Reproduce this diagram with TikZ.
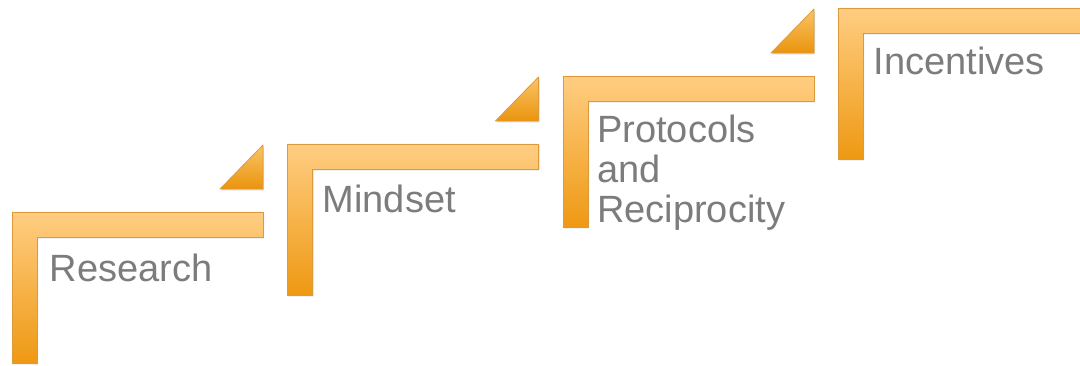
\documentclass[tikz,border=0pt]{standalone}
\usepackage{fontspec}
\setmainfont{Liberation Sans}
\usetikzlibrary{shadows}

\definecolor{stepTop}{HTML}{FFCD82}
\definecolor{stepBottom}{HTML}{EE9912}
\definecolor{stepEdge}{HTML}{DC9A3C}
\definecolor{triTop}{HTML}{FAC466}
\definecolor{triBottom}{HTML}{EA940E}
\definecolor{labelGray}{HTML}{7C7C7C}

\tikzset{
  stairshape/.style={draw=stepEdge, line width=0.8pt, line join=miter,
    top color=stepTop, bottom color=stepBottom,
    drop shadow={shadow xshift=1pt, shadow yshift=-1.5pt, opacity=0.25, fill=black!60}},
  wedgeshape/.style={draw=stepEdge, line width=0.8pt, line join=round,
    top color=triTop, bottom color=triBottom,
    drop shadow={shadow xshift=1pt, shadow yshift=-1.5pt, opacity=0.25, fill=black!60}},
  steplabel/.style={anchor=base west, inner sep=0pt, text=labelGray,
    font=\fontsize{38}{40}\selectfont, align=left}
}

% L-shaped stair: #1 = left edge, #2 = top edge
\newcommand\stairL[2]{%
  \draw[stairshape] (#1,#2) -- ++(251,0) -- ++(0,-25) -- ++(-226,0)
    -- ++(0,-126) -- ++(-25,0) -- cycle;}
% small corner wedge above the right end of a stair
\newcommand\stairWedge[2]{%
  \draw[wedgeshape] (#1+251,#2+67) -- (#1+251,#2+23) -- (#1+208,#2+23) -- cycle;}

\begin{document}
\begin{tikzpicture}[x=1pt, y=1pt]
  \useasboundingbox (0,0) rectangle (1080,366);
  \clip (0,0) rectangle (1080,366);

  \stairL{12}{154}
  \stairWedge{12}{154}
  \stairL{287.5}{222}
  \stairWedge{287.5}{222}
  \stairL{563}{290}
  \stairWedge{563}{290}
  \stairL{838}{358}

  \node[steplabel] (research)   at (49.5,84)  {Research};
  \node[steplabel] (mindset)    at (322.5,153) {Mindset};
  % multi-line label: the base anchor sits on its last line
  \node[steplabel] (protocols)  at (597,143) {Protocols\\and\\Reciprocity};
  \node[steplabel] (incentives) at (873.5,291) {Incentives};
\end{tikzpicture}
\end{document}
